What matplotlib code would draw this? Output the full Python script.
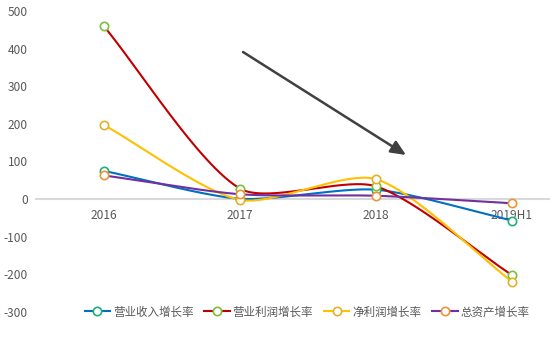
import numpy as np
import matplotlib
matplotlib.use("Agg")
import matplotlib.pyplot as plt
from matplotlib.lines import Line2D

plt.rcParams['font.family'] = ['Noto Sans CJK SC', 'DejaVu Sans']

categories = ['2016', '2017', '2018', '2019H1']
series_names = ['营业收入增长率', '营业利润增长率', '净利润增长率', '总资产增长率']
revenue_growth = [75, 1, 25, -57]
op_profit_growth = [459, 28, 34, -202]
net_profit_growth = [197, -2, 53, -219]
asset_growth = [63, 13, 9, -11]
yticks = [500, 400, 300, 200, 100, 0, -100, -200, -300]

line_colors = ['#0070C0', '#C00000', '#FFC000', '#7030A0']
marker_colors = ['#22AE7A', '#7DBE3A', '#E2B22C', '#F0923A']
all_series = [revenue_growth, op_profit_growth, net_profit_growth, asset_growth]

W, H = 550, 348
fig = plt.figure(figsize=(W / 100, H / 100), dpi=100)
left_px, right_px = 36, 580
top_px, bot_px = 11, 312
ax = fig.add_axes([left_px / W, 1 - bot_px / H, (right_px - left_px) / W, (bot_px - top_px) / H])
ax.set_xlim(-0.5, len(categories) - 0.5)
ax.set_ylim(-300, 500)
for s in ['top', 'right', 'left']:
    ax.spines[s].set_visible(False)
ax.spines['bottom'].set_position(('data', 0))
ax.spines['bottom'].set_color('#D9D9D9')
ax.spines['bottom'].set_linewidth(1.5)
ax.set_xticks(range(len(categories)))
ax.set_xticklabels(categories)
ax.set_yticks(yticks)
ax.set_yticklabels([str(v) for v in yticks])
ax.tick_params(axis='both', length=0, labelsize=8.6, colors='#595959')
ax.tick_params(axis='y', pad=6)
ax.tick_params(axis='x', pad=7)
ax.patch.set_alpha(0)


def smooth_curve(xs, ys, smooth=0.25, n=60):
    pts = ax.transData.transform(np.column_stack([xs, ys]))
    m = len(pts)
    cps = []
    for i in range(m):
        p = pts[i]
        prev = pts[i - 1] if i > 0 else p
        nxt = pts[i + 1] if i < m - 1 else p
        v = (nxt - prev) * smooth
        d0 = np.hypot(*(p - prev))
        d1 = np.hypot(*(p - nxt))
        s = d0 + d1
        if s > 0:
            d0 /= s
            d1 /= s
        cps.append((p - v * d0, p + v * d1))
    out = []
    t = np.linspace(0, 1, n)[:, None]
    for i in range(m - 1):
        p0 = pts[i]
        c1 = cps[i][1]
        c2 = cps[i + 1][0]
        p3 = pts[i + 1]
        seg = (1 - t) ** 3 * p0 + 3 * (1 - t) ** 2 * t * c1 + 3 * (1 - t) * t ** 2 * c2 + t ** 3 * p3
        out.append(seg if i == 0 else seg[1:])
    out = np.vstack(out)
    return ax.transData.inverted().transform(out)


x = np.arange(len(categories))
for k, (vals, lc, mc) in enumerate(zip(all_series, line_colors, marker_colors)):
    c = smooth_curve(x, vals)
    ax.plot(c[:, 0], c[:, 1], color=lc, lw=1.5, zorder=3 + k, solid_capstyle='round')
    ax.plot(x, vals, ls='none', marker='o', ms=6, mfc='white', mec=mc, mew=1.2, zorder=10 + k)

# arrow
ax.annotate('', xy=(406 / W, 1 - 155 / H), xytext=(243 / W, 1 - 52 / H),
            xycoords='figure fraction', textcoords='figure fraction',
            arrowprops=dict(arrowstyle='-|>,head_length=0.9,head_width=0.4', color='#404040', lw=1.8,
                            shrinkA=0, shrinkB=0))

handles = [Line2D([0], [0], color=lc, lw=1.5, marker='o', ms=6, mfc='white', mec=mc, mew=1.2)
           for lc, mc in zip(line_colors, marker_colors)]
leg = fig.legend(handles, series_names, loc='center', bbox_to_anchor=(307 / W, 1 - 312 / H),
                 ncol=4, frameon=False, fontsize=8.3, handlelength=2.2, handletextpad=0.25,
                 columnspacing=0.95, labelcolor='#595959')

fig.savefig('out.png', dpi=100)
